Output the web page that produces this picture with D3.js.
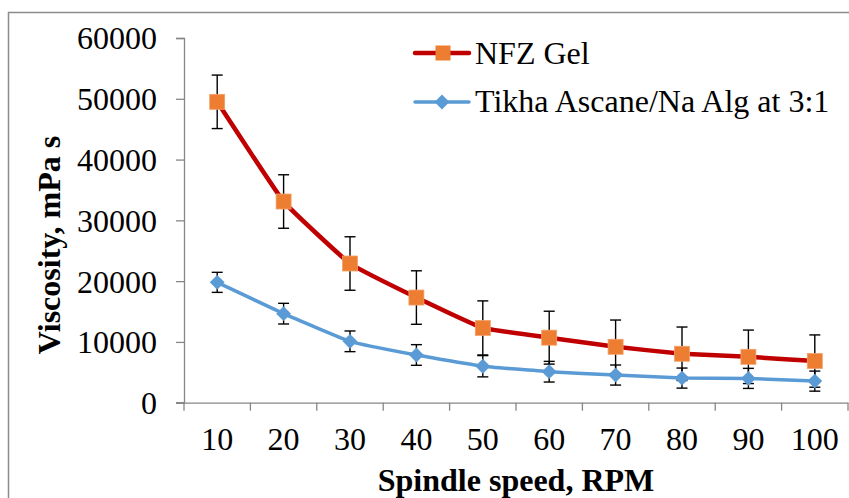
<!DOCTYPE html>
<html lang="en">
	<head>
		<meta charset="utf-8">
		<title>Viscosity vs spindle speed</title>
		<script type="text/javascript" src="https://cdn.jsdelivr.net/npm/d3@7"></script>
		<style type="text/css">
			body { margin: 0; background: #fff; }
			svg text { font-family: "Liberation Serif", "Times New Roman", serif; fill: #000; }
		</style>
	</head>
	<body>
		<script type="text/javascript">

			//Data
			var speeds = [10, 20, 30, 40, 50, 60, 70, 80, 90, 100];
			var nfzGel = [49500, 33100, 22900, 17300, 12300, 10700, 9200, 8050, 7550, 6850];
			var nfzErr = [4400, 4400, 4400, 4400, 4450, 4350, 4400, 4400, 4400, 4300];
			var tikha = [19800, 14650, 10100, 7850, 6000, 5100, 4550, 4050, 4000, 3550];
			var tikhaErr = [1650, 1700, 1700, 1700, 1750, 1700, 1650, 1650, 1650, 1650];
			var yTicks = [0, 10000, 20000, 30000, 40000, 50000, 60000];
			var seriesNames = ["NFZ Gel", "Tikha Ascane/Na Alg at 3:1"];

			var w = 849;
			var h = 498;
			var fontSize = "32px";

			var svg = d3.select("body")
						.append("svg")
						.attr("width", w)
						.attr("height", h);

			//Outer chart border
			svg.append("rect")
			   .attr("x", 8.5)
			   .attr("y", 12.5)
			   .attr("width", w)
			   .attr("height", h)
			   .attr("fill", "none")
			   .attr("stroke", "#8c8c8c")
			   .attr("stroke-width", 1.5);

			//Scales
			var xScale = d3.scaleBand()
							.domain(speeds)
							.range([184, 848]);

			var yScale = d3.scaleLinear()
							.domain([0, 60000])
							.range([402.7, 38]);

			var xc = function(d) { return xScale(d) + xScale.bandwidth() / 2; };

			//Y axis
			var yAxis = svg.append("g")
						   .attr("transform", "translate(184,0)")
						   .call(d3.axisLeft(yScale)
								   .tickValues(yTicks)
								   .tickFormat(d3.format("d"))
								   .tickSize(8)
								   .tickPadding(19));
			yAxis.selectAll("text")
				 .attr("font-size", fontSize)
				 .attr("dy", "0.34em");

			//X axis
			var xAxis = svg.append("g")
						   .attr("transform", "translate(0,402.7)")
						   .call(d3.axisBottom(xScale).tickSize(0).tickPadding(25));
			xAxis.selectAll("text")
				 .attr("font-size", fontSize);

			//X tick marks on band boundaries
			var bounds = speeds.map(function(d) { return xScale(d); }).concat([xScale.range()[1]]);
			xAxis.selectAll("line.bound")
				 .data(bounds)
				 .enter()
				 .append("line")
				 .attr("class", "bound")
				 .attr("x1", function(d) { return d; })
				 .attr("x2", function(d) { return d; })
				 .attr("y1", 0)
				 .attr("y2", 8);

			//X axis line extends left like Excel
			svg.append("line")
			   .attr("x1", 176)
			   .attr("x2", 184)
			   .attr("y1", 402.7)
			   .attr("y2", 402.7);

			svg.selectAll(".domain, line")
			   .attr("stroke", "#868686")
			   .attr("stroke-width", 1.3);
			svg.selectAll(".domain").attr("fill", "none");

			//Axis titles
			svg.append("text")
			   .attr("x", 516)
			   .attr("y", 491)
			   .attr("text-anchor", "middle")
			   .attr("font-size", fontSize)
			   .attr("font-weight", "bold")
			   .text("Spindle speed, RPM");

			svg.append("text")
			   .attr("transform", "translate(60,245) rotate(-90)")
			   .attr("text-anchor", "middle")
			   .attr("font-size", fontSize)
			   .attr("font-weight", "bold")
			   .text("Viscosity, mPa s");

			var line = d3.line()
						 .x(function(d, i) { return xc(speeds[i]); })
						 .y(function(d) { return yScale(d); })
						 .curve(d3.curveCardinal.tension(0.7));

			//Error bars
			function drawErrors(values, errs) {
				var g = svg.append("g");
				values.forEach(function(v, i) {
					var x = xc(speeds[i]);
					var top = yScale(v + errs[i]);
					var bot = yScale(v - errs[i]);
					g.append("line").attr("x1", x).attr("x2", x).attr("y1", top).attr("y2", bot);
					g.append("line").attr("x1", x - 5.5).attr("x2", x + 5.5).attr("y1", top).attr("y2", top);
					g.append("line").attr("x1", x - 5.5).attr("x2", x + 5.5).attr("y1", bot).attr("y2", bot);
				});
				g.selectAll("line").attr("stroke", "#000").attr("stroke-width", 1.4);
			}

			//Tikha series
			svg.append("path")
			   .datum(tikha)
			   .attr("d", line)
			   .attr("fill", "none")
			   .attr("stroke", "#5B9BD5")
			   .attr("stroke-width", 3.5);

			//NFZ series
			svg.append("path")
			   .datum(nfzGel)
			   .attr("d", line)
			   .attr("fill", "none")
			   .attr("stroke", "#C00000")
			   .attr("stroke-width", 4.5);

			drawErrors(tikha, tikhaErr);
			drawErrors(nfzGel, nfzErr);

			var diamond = d3.symbol().type(d3.symbolDiamond2).size(140);

			svg.selectAll("path.diamond")
			   .data(tikha)
			   .enter()
			   .append("path")
			   .attr("class", "diamond")
			   .attr("d", diamond)
			   .attr("transform", function(d, i) {
					return "translate(" + xc(speeds[i]) + "," + yScale(d) + ")";
			   })
			   .attr("fill", "#5B9BD5");

			svg.selectAll("rect.sq")
			   .data(nfzGel)
			   .enter()
			   .append("rect")
			   .attr("class", "sq")
			   .attr("x", function(d, i) { return xc(speeds[i]) - 7.5; })
			   .attr("y", function(d) { return yScale(d) - 7.5; })
			   .attr("width", 15)
			   .attr("height", 15)
			   .attr("fill", "#ED7D31")
			   .attr("stroke", "#F4A06A")
			   .attr("stroke-width", 0.8);

			//Legend
			var legend = svg.append("g");
			legend.append("line")
				  .attr("x1", 415).attr("x2", 469).attr("y1", 53).attr("y2", 53)
				  .attr("stroke", "#C00000").attr("stroke-width", 4.5).attr("stroke-linecap", "round");
			legend.append("rect")
				  .attr("x", 435.5).attr("y", 45.5).attr("width", 15).attr("height", 15)
				  .attr("fill", "#ED7D31");
			legend.append("text")
				  .attr("x", 475).attr("y", 64)
				  .attr("font-size", fontSize)
				  .text(seriesNames[0]);

			legend.append("line")
				  .attr("x1", 415).attr("x2", 469).attr("y1", 102).attr("y2", 102)
				  .attr("stroke", "#5B9BD5").attr("stroke-width", 3.5).attr("stroke-linecap", "round");
			legend.append("path")
				  .attr("d", diamond)
				  .attr("transform", "translate(442,102)")
				  .attr("fill", "#5B9BD5");
			legend.append("text")
				  .attr("x", 475).attr("y", 112)
				  .attr("font-size", fontSize)
				  .text(seriesNames[1]);

		</script>
	</body>
</html>
